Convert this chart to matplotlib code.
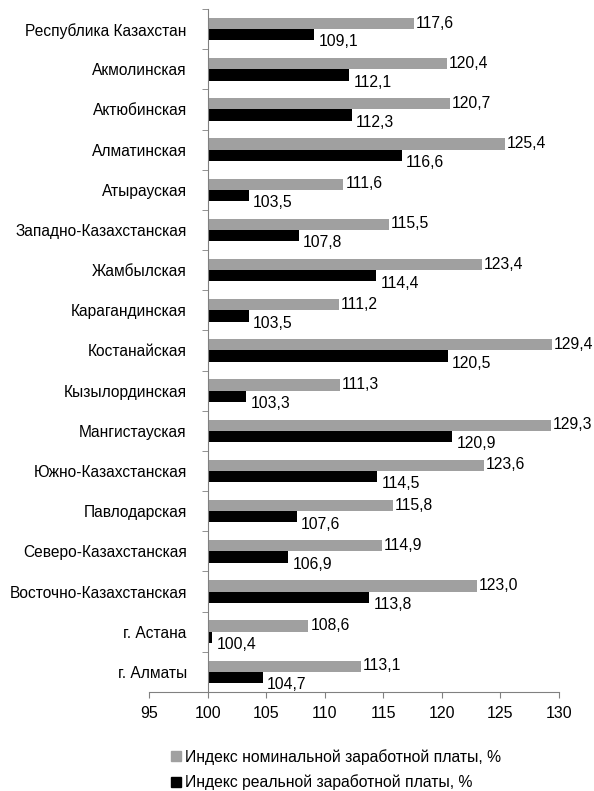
import matplotlib
matplotlib.use("Agg")
import matplotlib.pyplot as plt
from matplotlib.patches import Patch

plt.rcParams['font.family'] = ['Liberation Sans', 'DejaVu Sans']

regions = ["Республика Казахстан", "Акмолинская", "Актюбинская", "Алматинская",
           "Атырауская", "Западно-Казахстанская", "Жамбылская", "Карагандинская",
           "Костанайская", "Кызылординская", "Мангистауская", "Южно-Казахстанская",
           "Павлодарская", "Северо-Казахстанская", "Восточно-Казахстанская",
           "г. Астана", "г. Алматы"]
nominal = [117.6, 120.4, 120.7, 125.4, 111.6, 115.5, 123.4, 111.2, 129.4,
           111.3, 129.3, 123.6, 115.8, 114.9, 123.0, 108.6, 113.1]
real = [109.1, 112.1, 112.3, 116.6, 103.5, 107.8, 114.4, 103.5, 120.5,
        103.3, 120.9, 114.5, 107.6, 106.9, 113.8, 100.4, 104.7]
base = 100

gray = '#a0a0a0'
axis_col = '#808080'

fig = plt.figure(figsize=(5.94, 7.91), dpi=100)
ax = fig.add_axes([0.251, 0.1252, 0.690, 0.8634])

h = 0.28
pos = list(range(len(regions)))
ax.barh([p - h / 2 for p in pos], [v - base for v in nominal], left=base, height=h, color=gray)
ax.barh([p + h / 2 for p in pos], [v - base for v in real], left=base, height=h, color='black')

for p, v in zip(pos, nominal):
    ax.annotate(f"{v:.1f}".replace('.', ','), (v, p - 0.15), xytext=(1.5, 0),
                textcoords='offset points', va='center', ha='left', fontsize=11.3)
for p, v in zip(pos, real):
    ax.annotate(f"{v:.1f}".replace('.', ','), (v, p + 0.32), xytext=(3, 0),
                textcoords='offset points', va='center', ha='left', fontsize=11.3)

ax.set_xlim(95, 130)
ax.set_ylim(len(regions) - 0.5, -0.5)
ax.set_xticks(range(95, 131, 5))
ax.tick_params(axis='x', labelsize=11.5, length=4, color=axis_col, pad=6)

ax.set_yticks(pos)
ax.set_yticklabels(regions)
ax.set_yticks([p - 0.5 for p in pos] + [len(regions) - 0.5], minor=True)
ax.tick_params(axis='y', which='major', length=0, pad=15, labelsize=11.2)
ax.tick_params(axis='y', which='minor', length=4, color=axis_col)

for s in ['top', 'right']:
    ax.spines[s].set_visible(False)
ax.spines['left'].set_position(('data', base))
ax.spines['left'].set_color(axis_col)
ax.spines['bottom'].set_color(axis_col)

handles = [Patch(color=gray), Patch(color='black')]
fig.legend(handles, ["Индекс номинальной заработной платы, %",
                     "Индекс реальной заработной платы, %"],
           loc='upper left', bbox_to_anchor=(0.278, 0.061), frameon=False,
           fontsize=11.3, handlelength=0.6, handleheight=0.6, handletextpad=0.25,
           labelspacing=0.6, borderaxespad=0)

fig.savefig("out.png", dpi=100)
